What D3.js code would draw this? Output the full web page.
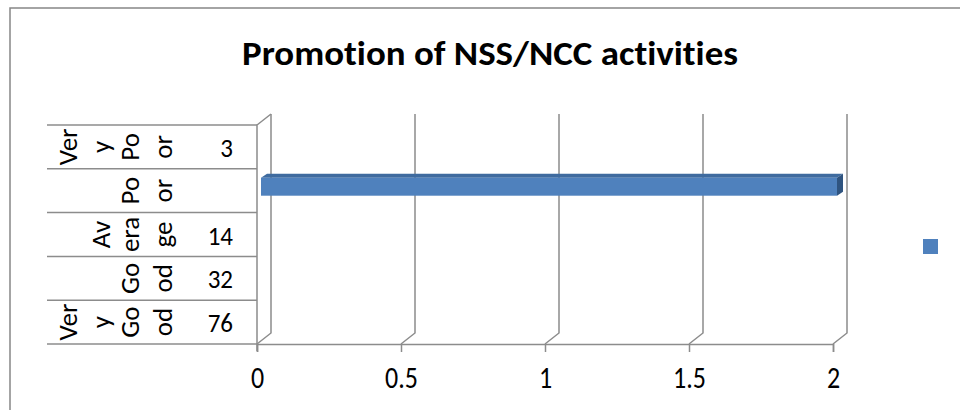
<!DOCTYPE html>
<html>
<head>
<meta charset="utf-8">
<script src="https://cdn.jsdelivr.net/npm/d3@7"></script>
<style>
html,body{margin:0;padding:0;background:#fff;}
svg{display:block;}
text{font-variant-ligatures:none;font-feature-settings:"liga" 0, "clig" 0;}
</style>
</head>
<body>
<svg id="chart" width="960" height="410"></svg>
<script>
// ---- data ----
const title = "Promotion of NSS/NCC activities";
const categories = ["Very Poor", "Poor", "Average", "Good", "Very Good"];
const categoryLines = [["Ver", "y", "Po", "or"], ["Po", "or"], ["Av", "era", "ge"], ["Go", "od"], ["Ver", "y", "Go", "od"]];
const counts = ["3", "", "14", "32", "76"];
const values = [null, 2, null, null, null];
const xTicks = [0, 0.5, 1, 1.5, 2];

// ---- layout ----
const svg = d3.select("#chart");
const font = "Carlito, Calibri, 'Open Sans', sans-serif";
const gridColor = "#8c8c8c";
const depth = {dx: 14, dy: -11};

const x = d3.scaleLinear().domain([0, 2]).range([257, 833]);
const y = d3.scaleBand().domain(categories).range([125, 344]).paddingInner(0).paddingOuter(0);

// outer border
svg.append("rect").attr("x", 10).attr("y", 8).attr("width", 980).attr("height", 420)
  .attr("fill", "none").attr("stroke", "#868686").attr("stroke-width", 1.5);

// title
svg.append("text").attr("x", 490).attr("y", 65)
  .attr("text-anchor", "middle")
  .attr("font-family", font).attr("font-weight", "bold")
  .attr("font-size", 34).attr("fill", "#000")
  .attr("textLength", 496).attr("lengthAdjust", "spacingAndGlyphs")
  .text(title);

const g = svg.append("g");
const yTop = y.range()[0], yBot = y.range()[1];

// back wall vertical gridlines + floor diagonals
xTicks.forEach(t => {
  const fx = x(t);
  g.append("path")
    .attr("d", `M${fx},${yBot} L${fx + depth.dx},${yBot + depth.dy} L${fx + depth.dx},${yTop + depth.dy}`)
    .attr("fill", "none").attr("stroke", gridColor).attr("stroke-width", 1.5);
});

// left wall front edge and top diagonal
g.append("path")
  .attr("d", `M${x(0) + depth.dx},${yTop + depth.dy} L${x(0)},${yTop} L${x(0)},${yBot}`)
  .attr("fill", "none").attr("stroke", gridColor).attr("stroke-width", 1.5);

// value axis (front)
const xAxis = d3.axisBottom(x).tickValues(xTicks).tickSize(8).tickPadding(12)
  .tickFormat(d3.format("~g"));
const ax = g.append("g").attr("transform", `translate(0,${yBot})`).call(xAxis);
ax.select(".domain").attr("stroke", gridColor).attr("stroke-width", 1.5);
ax.selectAll(".tick line").attr("stroke", gridColor).attr("stroke-width", 1.5);
ax.selectAll(".tick text")
  .attr("y", null).attr("dy", null)
  .attr("transform", "translate(0,44) scale(1,1.15)")
  .attr("font-family", font).attr("font-size", 26).attr("fill", "#000");

// category axis lines (multi-level)
const catLeft = 47;
const bounds = categories.map(c => y(c)).concat([yBot]);
bounds.forEach(b => {
  g.append("line").attr("x1", catLeft).attr("x2", x(0)).attr("y1", b).attr("y2", b)
    .attr("stroke", gridColor).attr("stroke-width", 1.5);
});

// category labels, rotated, wrapped to columns (columns filled from the right)
const colBaselines = [77, 110, 139, 172];
categories.forEach((c, i) => {
  const lines = categoryLines[i];
  const cy = y(c) + y.bandwidth() / 2;
  lines.forEach((ln, j) => {
    const cx = colBaselines[colBaselines.length - lines.length + j];
    g.append("text")
      .attr("transform", `translate(${cx},${cy}) rotate(-90)`)
      .attr("text-anchor", "middle")
      .attr("font-family", font).attr("font-size", 27).attr("fill", "#000")
      .text(ln);
  });
  g.append("text")
    .attr("transform", `translate(233,${cy + 10}) scale(1,1.05)`)
    .attr("text-anchor", "end")
    .attr("font-family", font).attr("font-size", 25).attr("fill", "#000")
    .text(counts[i]);
});
// small tick below left wall
g.append("line").attr("x1", x(0)).attr("x2", x(0)).attr("y1", yBot).attr("y2", yBot + 7)
  .attr("stroke", gridColor).attr("stroke-width", 1.5);

// 3D bars
const off = {dx: 4, dy: -4};   // front face offset into depth
const bd = {dx: 6, dy: -4};    // bar depth
const barH = 18;
categories.forEach((c, i) => {
  const v = values[i];
  if (v == null) return;
  const x0 = x(0) + off.dx, x1 = x(v) + off.dx;
  const cy = y(c) + y.bandwidth() / 2 + off.dy;
  const t = cy - barH / 2, b = cy + barH / 2;
  // top face
  g.append("path")
    .attr("d", `M${x0},${t} L${x0 + bd.dx},${t + bd.dy} L${x1 + bd.dx},${t + bd.dy} L${x1},${t} Z`)
    .attr("fill", "#3f6b9f");
  // side face
  g.append("path")
    .attr("d", `M${x1},${t} L${x1 + bd.dx},${t + bd.dy} L${x1 + bd.dx},${b + bd.dy} L${x1},${b} Z`)
    .attr("fill", "#2f5480");
  // front face
  g.append("rect").attr("x", x0).attr("y", t).attr("width", x1 - x0).attr("height", barH)
    .attr("fill", "#4f81bd");
});

// legend (marker only)
svg.append("rect").attr("x", 923).attr("y", 239).attr("width", 15).attr("height", 15)
  .attr("fill", "#4f81bd");
</script>
</body>
</html>
